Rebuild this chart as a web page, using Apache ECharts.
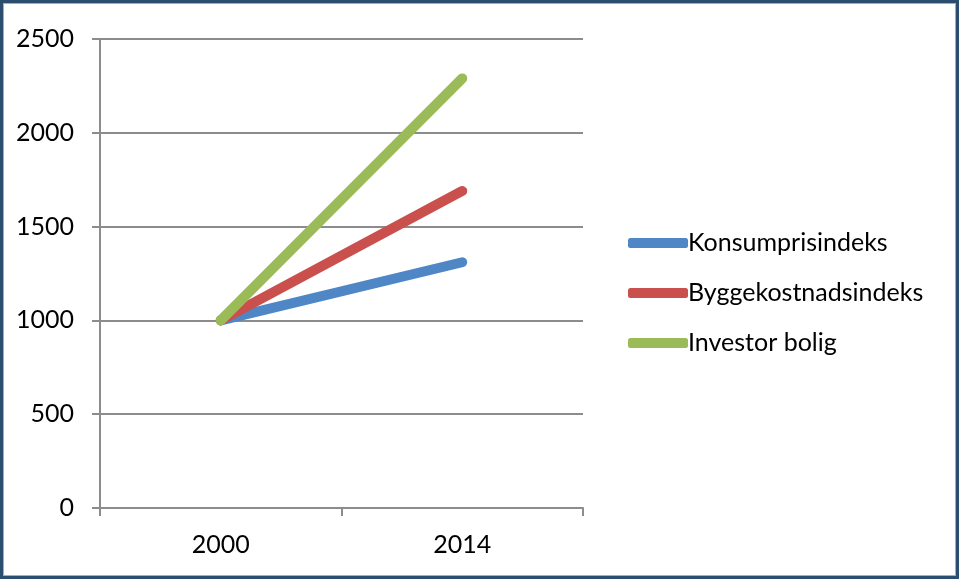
<!DOCTYPE html>
<html>
<head>
<meta charset="utf-8">
<script src="https://cdn.jsdelivr.net/npm/echarts@6/dist/echarts.min.js"></script>
<style>
  html, body { margin: 0; padding: 0; background: #ffffff; }
  #frame {
    position: absolute; left: 0; top: 0;
    width: 959px; height: 579px; box-sizing: border-box;
    border: 3px solid #2b4d70;
    box-shadow: inset 0 0 0 1px #9fb0c2;
  }
  #chart { position: absolute; left: 0; top: 0; width: 959px; height: 579px; }
</style>
</head>
<body>
<div id="chart"></div>
<div id="frame"></div>
<script>
// kategorier og verdier lest av bildet
var years = ["2000", "2014"];
var konsumpris = [1000, 1310];
var byggekostnad = [1000, 1690];
var investorBolig = [1000, 2290];
var seriesNames = ["Konsumprisindeks", "Byggekostnadsindeks", "Investor bolig"];
var colors = ["#4f86c6", "#c9504d", "#9bbb59"];

var myChart = echarts.init(document.getElementById("chart"));
var font = "Lato, 'Open Sans', sans-serif";

function makeLine(name, data, color) {
    return {
        name: name,
        type: "line",
        data: data,
        symbol: "none",
        lineStyle: { width: 10, color: color, cap: "round" },
        itemStyle: { color: color },
        animation: false
    };
}

var option = {
    animation: false,
    grid: { left: 100, right: 376, top: 39, bottom: 71 },
    legend: {
        orient: "vertical",
        left: 623,
        top: 225,
        itemGap: 24,
        itemWidth: 60,
        itemHeight: 10,
        icon: "roundRect",
        data: seriesNames,
        textStyle: { fontFamily: font, fontSize: 25, lineHeight: 26, color: "#000", padding: [0, 0, 0, -5] }
    },
    xAxis: {
        type: "category",
        data: years,
        boundaryGap: true,
        axisLine: { lineStyle: { color: "#8c8c8c", width: 2 } },
        axisTick: { show: true, length: 8, interval: 0, lineStyle: { color: "#8c8c8c", width: 2 } },
        axisLabel: { fontFamily: font, fontSize: 25, color: "#000", margin: 24 }
    },
    yAxis: {
        type: "value",
        min: 0,
        max: 2500,
        interval: 500,
        axisLine: { show: true, lineStyle: { color: "#8c8c8c", width: 2 } },
        axisTick: { show: true, length: 8, lineStyle: { color: "#8c8c8c", width: 2 } },
        splitLine: { lineStyle: { color: "#8c8c8c", width: 2 } },
        axisLabel: { fontFamily: font, fontSize: 25, color: "#000", margin: 26,
            formatter: function (v) { return String(v); } }
    },
    series: [
        makeLine(seriesNames[0], konsumpris, colors[0]),
        makeLine(seriesNames[1], byggekostnad, colors[1]),
        makeLine(seriesNames[2], investorBolig, colors[2])
    ]
};

myChart.setOption(option);
</script>
</body>
</html>
